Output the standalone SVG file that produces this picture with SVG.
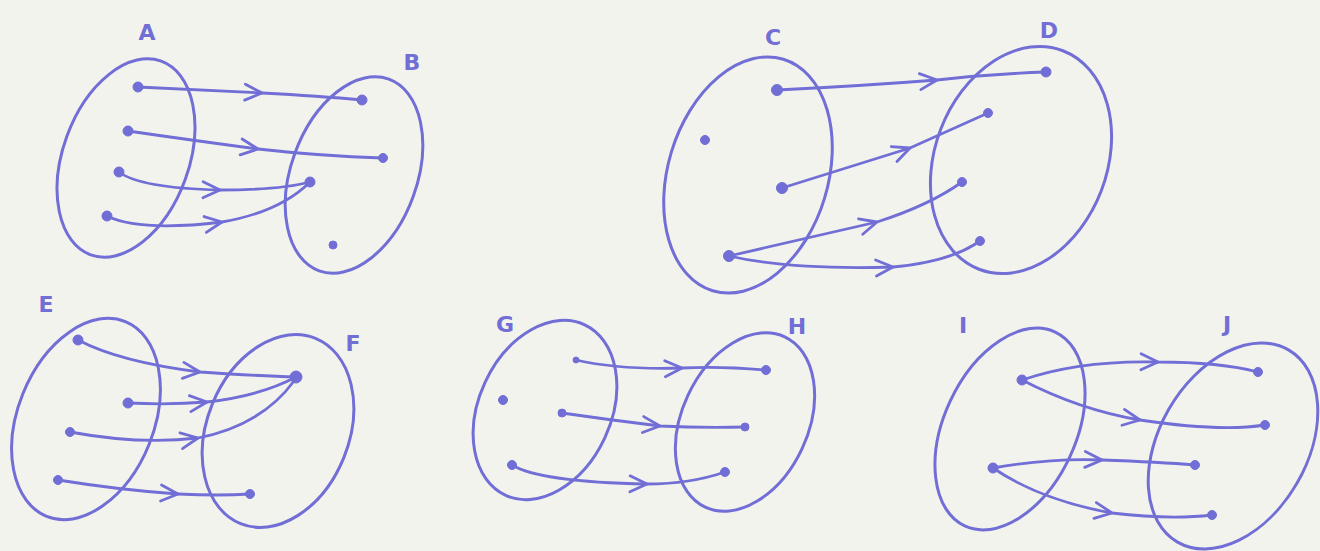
<svg xmlns="http://www.w3.org/2000/svg" width="1320" height="551" viewBox="0 0 1320 551">
<defs>
<style>
.set{fill:none;stroke:#716ed6;stroke-width:3}
.dot{fill:#716ed6;stroke:#716ed6;stroke-width:1}
.lbl{font-family:"DejaVu Sans","Liberation Sans",sans-serif;font-size:22px;font-weight:bold;fill:#716ed6;text-anchor:middle}
.edge{fill:none;stroke:#716ed6;stroke-width:2.8;stroke-linecap:round;marker-mid:url(#chev)}
</style>
<marker id="chev" markerUnits="userSpaceOnUse" markerWidth="24" markerHeight="24" refX="0" refY="0" viewBox="-20 -12 24 24" orient="auto" overflow="visible">
<path d="M-17,-8 L0,0 L-17,8" fill="none" stroke="#716ed6" stroke-width="2.8" stroke-linecap="round" stroke-linejoin="round"/>
</marker>
</defs>
<rect width="1320" height="551" fill="#f3f3ee"/>

<g id="setA">
<ellipse class="set" cx="126" cy="158" rx="63" ry="103" transform="rotate(20 126 158)"/>
<circle class="dot" cx="138" cy="87" r="5"/><circle class="dot" cx="128" cy="131" r="5"/><circle class="dot" cx="119" cy="172" r="5"/><circle class="dot" cx="107" cy="216" r="5"/>
<text class="lbl" x="147" y="40">A</text>
</g>
<g id="setB">
<ellipse class="set" cx="354" cy="175" rx="63" ry="102" transform="rotate(20 354 175)"/>
<circle class="dot" cx="362" cy="100" r="5"/><circle class="dot" cx="383" cy="158" r="4.5"/><circle class="dot" cx="310" cy="182" r="5"/><circle class="dot" cx="333" cy="245" r="4"/>
<text class="lbl" x="412" y="70">B</text>
</g>
<g id="setC">
<ellipse class="set" cx="748" cy="175" rx="80" ry="121" transform="rotate(17 748 175)"/>
<circle class="dot" cx="777" cy="90" r="5.5"/><circle class="dot" cx="705" cy="140" r="4.5"/><circle class="dot" cx="782" cy="188" r="5.5"/><circle class="dot" cx="729" cy="256" r="5.5"/>
<text class="lbl" x="773" y="45">C</text>
</g>
<g id="setD">
<ellipse class="set" cx="1021" cy="160" rx="86" ry="117" transform="rotate(21 1021 160)"/>
<circle class="dot" cx="1046" cy="72" r="5"/><circle class="dot" cx="988" cy="113" r="4.5"/><circle class="dot" cx="962" cy="182" r="4.5"/><circle class="dot" cx="980" cy="241" r="4.5"/>
<text class="lbl" x="1049" y="38">D</text>
</g>
<g id="setE">
<ellipse class="set" cx="86" cy="419" rx="68" ry="105" transform="rotate(22 86 419)"/>
<circle class="dot" cx="78" cy="340" r="5"/><circle class="dot" cx="128" cy="403" r="5"/><circle class="dot" cx="70" cy="432" r="4.5"/><circle class="dot" cx="58" cy="480" r="4.5"/>
<text class="lbl" x="46" y="312">E</text>
</g>
<g id="setF">
<ellipse class="set" cx="278" cy="431" rx="71" ry="100" transform="rotate(22 278 431)"/>
<circle class="dot" cx="296" cy="377" r="6"/><circle class="dot" cx="250" cy="494" r="4.5"/>
<text class="lbl" x="353" y="351">F</text>
</g>
<g id="setG">
<ellipse class="set" cx="545" cy="410" rx="66" ry="94" transform="rotate(25 545 410)"/>
<circle class="dot" cx="576" cy="360" r="3"/><circle class="dot" cx="503" cy="400" r="4.5"/><circle class="dot" cx="562" cy="413" r="4"/><circle class="dot" cx="512" cy="465" r="4.5"/>
<text class="lbl" x="505" y="332">G</text>
</g>
<g id="setH">
<ellipse class="set" cx="745" cy="422" rx="63" ry="94" transform="rotate(25 745 422)"/>
<circle class="dot" cx="766" cy="370" r="4.5"/><circle class="dot" cx="745" cy="427" r="4"/><circle class="dot" cx="725" cy="472" r="4.5"/>
<text class="lbl" x="797" y="334">H</text>
</g>
<g id="setI">
<ellipse class="set" cx="1010" cy="429" rx="66" ry="107" transform="rotate(25 1010 429)"/>
<circle class="dot" cx="1022" cy="380" r="5"/><circle class="dot" cx="993" cy="468" r="5"/>
<text class="lbl" x="963" y="333">I</text>
</g>
<g id="setJ">
<ellipse class="set" cx="1233" cy="446" rx="74" ry="111" transform="rotate(30 1233 446)"/>
<circle class="dot" cx="1258" cy="372" r="4.5"/><circle class="dot" cx="1265" cy="425" r="4.5"/><circle class="dot" cx="1195" cy="465" r="4.5"/><circle class="dot" cx="1212" cy="515" r="4.5"/>
<text class="lbl" x="1227" y="332">J</text>
</g>

<g id="connectors">
<path class="edge" d="M138,87 Q200,90 262,93 Q320,96 362,100"/>
<path class="edge" d="M128,131 Q190,140 258,149 Q320,156 383,158"/>
<path class="edge" d="M119,172 Q140,188 220,190 Q280,190 310,182"/>
<path class="edge" d="M107,216 Q140,232 222,222 Q280,212 310,182"/>

<path class="edge" d="M777,90 Q860,86 937,80 Q990,74 1046,72"/>
<path class="edge" d="M782,188 Q840,170 910,148 Q950,130 988,113"/>
<path class="edge" d="M729,256 Q800,240 877,222 Q930,205 962,182"/>
<path class="edge" d="M729,256 Q790,270 893,267 Q950,262 980,241"/>

<path class="edge" d="M78,340 Q120,362 200,372 Q260,376 296,377"/>
<path class="edge" d="M128,403 Q170,405 207,402 Q260,396 296,377"/>
<path class="edge" d="M70,432 Q140,445 198,438 Q262,425 294,381"/>
<path class="edge" d="M58,480 Q120,490 178,494 Q220,496 250,494"/>

<path class="edge" d="M576,360 Q620,370 682,368 Q720,366 766,370"/>
<path class="edge" d="M562,413 Q610,420 660,426 Q700,428 745,427"/>
<path class="edge" d="M512,465 Q540,482 647,484 Q690,484 725,472"/>

<path class="edge" d="M1022,380 Q1080,360 1158,362 Q1220,362 1258,372"/>
<path class="edge" d="M1022,380 Q1080,410 1140,420 Q1220,432 1265,425"/>
<path class="edge" d="M993,468 Q1050,458 1102,460 Q1160,462 1195,465"/>
<path class="edge" d="M993,468 Q1040,500 1112,513 Q1170,520 1212,515"/>
</g>
</svg>
